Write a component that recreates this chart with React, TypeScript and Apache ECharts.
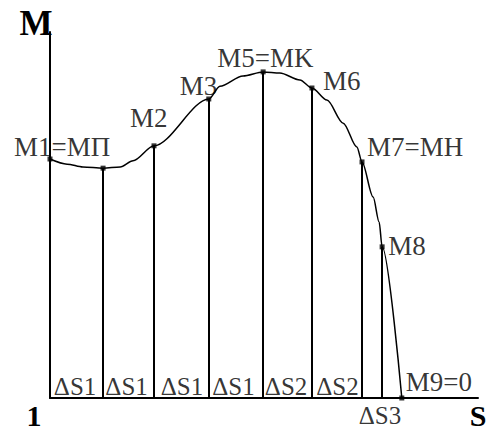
import React, { useEffect, useRef } from "react";
import * as echarts from "echarts";

// Named points on the curve (S, M) in chart units
const pointNames = ["M1=MП", "", "M2", "M3", "M5=MK", "M6", "M7=MH", "M8", "M9=0"];
const pointS = [0, 12.4, 24.3, 37.1, 49.8, 61.2, 72.9, 77.6, 82.2];
const pointM = [65.3, 62.8, 68.9, 81.7, 89.1, 84.7, 64.5, 41.3, 0];

// Curve M(S)
const curveS = [0, 4.0, 7.7, 12.4, 16.4, 19.4, 24.3, 37.1, 39.7, 45.1, 49.8, 53.7, 58.4, 61.2, 64.7, 68.5, 71.7, 72.9, 75.5, 76.9, 77.6, 82.2];
const curveM = [65.3, 63.9, 63.1, 62.8, 63.1, 64.8, 68.9, 81.7, 85.2, 88.0, 89.1, 88.8, 86.9, 84.7, 81.4, 75.1, 68.6, 64.5, 54.9, 48.1, 41.3, 0];

// Interval labels (between point indices)
const intervalNames = ["ΔS1", "ΔS1", "ΔS1", "ΔS1", "ΔS2", "ΔS2", "ΔS3"];
const intervalFrom = [0, 1, 2, 3, 4, 5, 6];
const intervalTo = [1, 2, 3, 4, 5, 6, 8];

// Axis names
const axisNameM = "M";
const axisNameS = "S";
const originName = "1";

// Label placement offsets (px, relative to the point; left edge / vertical middle)
const pointLabelDX = [-36, 0, -24, -29, -46, 11, 5, 6, 4];
const pointLabelDY = [-12, 0, -28, -13, -14, -7, -15, -1, -16];
const intervalLabelDX = [-1.5, -2, 0.5, -2.5, -1.5, 0.5, -2];
const intervalLabelDY = [-12, -12, -12, -12, -12, -12, 17];

export default function App() {
  const ref = useRef<HTMLDivElement>(null);
  useEffect(() => {
    const chart = echarts.init(ref.current!, null, { renderer: "svg" });
    const FONT = '"Liberation Serif", "Times New Roman", serif';

    const pointData = pointS.map((s, i) => ({
      value: [s, pointM[i]],
      label: {
        show: pointNames[i] !== "",
        formatter: pointNames[i],
        position: [pointLabelDX[i] + 2.5, pointLabelDY[i] + 2.5],
        align: "left",
        verticalAlign: "middle",
      },
    }));

    const intervalData = intervalNames.map((n, i) => ({
      value: [(pointS[intervalFrom[i]] + pointS[intervalTo[i]]) / 2, 0],
      label: {
        show: true,
        formatter: n,
        position: [intervalLabelDX[i], intervalLabelDY[i]],
        align: "center",
        verticalAlign: "middle",
      },
    }));

    const verticals = pointS.slice(1, 8).map((s, i) => [
      { coord: [s, 0] },
      { coord: [s, pointM[i + 1]] },
    ]);

    chart.setOption({
      animation: false,
      backgroundColor: "#ffffff",
      grid: { left: 50, right: 15, top: 32, bottom: 34 },
      xAxis: {
        type: "value",
        min: 0,
        max: 100,
        axisLine: { show: true, onZero: false, lineStyle: { color: "#000", width: 2 } },
        axisTick: { show: false },
        axisLabel: { show: false },
        splitLine: { show: false },
      },
      yAxis: {
        type: "value",
        min: 0,
        max: 100,
        axisLine: { show: true, onZero: false, lineStyle: { color: "#000", width: 2 } },
        axisTick: { show: false },
        axisLabel: { show: false },
        splitLine: { show: false },
      },
      series: [
        {
          type: "line",
          data: curveS.map((s, i) => [s, curveM[i]]),
          showSymbol: false,
          smooth: 0.3,
          smoothMonotone: "x",
          lineStyle: { color: "#000", width: 1.5 },
          silent: true,
          markLine: {
            silent: true,
            symbol: ["none", "none"],
            label: { show: false },
            lineStyle: { color: "#000", width: 2, type: "solid" },
            data: verticals,
          },
          z: 2,
        },
        {
          type: "scatter",
          data: pointData,
          symbol: "rect",
          symbolSize: 5,
          itemStyle: { color: "#000" },
          label: { color: "#000", fontFamily: FONT, fontSize: 27 },
          silent: true,
          z: 4,
        },
        {
          type: "scatter",
          data: intervalData,
          symbolSize: 0,
          itemStyle: { color: "#000" },
          label: { color: "#000", fontFamily: FONT, fontSize: 25 },
          silent: true,
          z: 3,
        },
      ],
      graphic: [
        {
          type: "text",
          x: 36,
          y: 23,
          style: { text: axisNameM, fill: "#000", font: "bold 35px " + FONT, align: "center", verticalAlign: "middle" },
        },
        {
          type: "text",
          x: 478,
          y: 415,
          style: { text: axisNameS, fill: "#000", font: "bold 30px " + FONT, align: "center", verticalAlign: "middle" },
        },
        {
          type: "text",
          x: 34,
          y: 415,
          style: { text: originName, fill: "#000", font: "bold 30px " + FONT, align: "center", verticalAlign: "middle" },
        },
      ],
    });
    return () => chart.dispose();
  }, []);
  return (
    <div
      ref={ref}
      style={{ position: "absolute", left: 0, top: 0, width: 493, height: 432, background: "#fff" }}
    />
  );
}
